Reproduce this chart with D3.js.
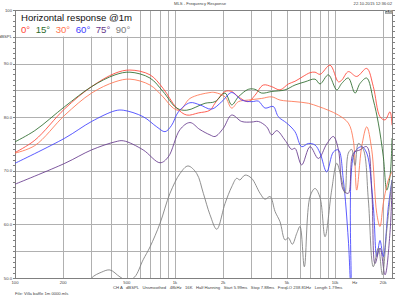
<!DOCTYPE html>
<html>
<head>
<meta charset="utf-8">
<script src="https://cdn.jsdelivr.net/npm/d3@7"></script>
<style>
  body { margin: 0; background: #fff; }
  svg { display: block; font-family: "Liberation Sans", Arial, sans-serif; }
</style>
</head>
<body>
<svg id="chart" width="400" height="300"></svg>
<script>
// angles and colours for the legend
var angles = ["0°", "15°", "30°", "60°", "75°", "90°"]
var colors = ["#ff4436", "#2c6a2c", "#ff7450", "#3d3dff", "#66398c", "#7c7c7c"]

// responses, [Hz, dBSPL]
var deg0 = [[100,73.4],[133,75.7],[205,81.6],[301,85.7],[422,88.2],[523,88.8],[698,87.9],[841,85.4],[1025,81.7],[1184,80.4],[1400,80.8],[1654,81.3],[1778,82.6],[2054,84.8],[2260,84.8],[2490,83.8],[2870,82.9],[3162,84.1],[3560,86.0],[4020,85.7],[4530,85.1],[5110,86.2],[5620,86.7],[6310,87.6],[6980,88.3],[7500,88.4],[8060,88.0],[9310,89.7],[10490,86.6],[11010,86.9],[12110,88.5],[13660,87.6],[15780,89.1],[17350,85.7],[19100,80.1],[20540,79.5],[22060,81.0],[22700,78.5]]
var deg15 = [[100,75.4],[133,77.5],[205,82.0],[301,85.7],[422,87.9],[523,88.4],[698,87.3],[841,84.8],[1025,81.7],[1184,81.3],[1540,82.6],[1778,82.9],[2054,84.5],[2260,82.3],[2490,83.8],[2870,85.2],[3162,85.2],[3480,84.5],[4020,84.8],[4870,85.1],[5620,86.0],[6490,86.6],[7500,87.1],[8060,86.2],[9080,87.9],[10250,85.1],[11010,86.3],[12110,87.3],[13340,84.5],[14330,86.3],[15780,87.3],[17350,83.2],[18650,78.9],[20040,72.6],[21050,66.4],[22060,69.0],[22700,76.1]]
var deg30 = [[100,73.3],[133,74.7],[205,80.4],[301,84.5],[422,86.6],[523,87.1],[698,86.0],[841,83.8],[976,81.7],[1075,81.3],[1240,83.5],[1654,84.6],[1778,84.6],[2054,83.8],[2260,81.7],[2490,82.9],[2870,83.2],[3480,83.5],[4020,83.8],[4530,83.2],[5620,82.9],[6810,82.6],[7870,82.0],[9080,81.3],[10490,80.4],[12110,78.9],[13010,75.7],[13660,66.4],[14680,74.5],[15780,78.2],[16950,74.0],[18220,62.1],[19100,59.6],[20040,64.0],[21540,68.3],[22700,69.8]]
var deg60 = [[100,71.4],[205,76.1],[301,79.2],[422,81.2],[475,81.3],[632,80.1],[769,78.2],[866,77.3],[953,78.5],[1050,81.0],[1240,82.7],[1430,82.3],[1690,81.5],[1960,82.9],[2260,84.6],[2610,83.2],[3010,82.9],[3320,83.0],[3650,81.7],[4110,82.0],[4420,80.1],[4990,78.9],[5620,77.3],[6190,74.5],[6810,75.1],[7500,74.8],[8060,73.3],[8870,69.8],[9760,73.5],[10490,73.9],[11270,68.3],[12110,57.1],[12590,48.0],[13200,73.3],[14680,74.5],[15780,73.3],[17350,63.3],[18220,54.0],[19100,57.0],[20040,54.0],[21540,63.3],[22700,68.3]]
var deg75 = [[100,67.5],[205,71.4],[301,73.9],[422,75.4],[475,75.6],[632,73.9],[806,71.5],[908,72.6],[1075,77.7],[1240,79.0],[1430,77.7],[1654,76.7],[1778,76.4],[2000,77.9],[2260,80.4],[2610,79.2],[3010,79.1],[3320,79.2],[3740,78.2],[4020,76.7],[4320,77.5],[4870,75.7],[5360,74.0],[5620,74.2],[6190,71.1],[6980,74.5],[7870,72.3],[8870,75.0],[9760,76.4],[10490,74.0],[11270,66.4],[12110,65.8],[13010,73.3],[14330,73.9],[15780,74.5],[16950,66.4],[17780,52.7],[19100,55.6],[20540,50.6],[22060,58.5],[22700,67.0]]
var deg90 = [[280,48.0],[301,50.0],[348,51.1],[392,51.5],[453,50.2],[505,49.5],[560,50.2],[632,53.4],[698,55.8],[806,60.2],[930,65.8],[1075,69.5],[1205,70.9],[1366,69.5],[1503,65.8],[1654,61.8],[1823,59.1],[2054,63.9],[2260,67.0],[2430,68.6],[2540,68.3],[2740,69.2],[3010,68.6],[3400,65.8],[3650,64.7],[3930,65.2],[4220,62.4],[4530,60.5],[4870,57.1],[5110,57.5],[5410,56.3],[5760,58.3],[6040,59.6],[6430,52.1],[6980,65.2],[7500,66.7],[8060,65.0],[8660,57.7],[9530,66.4],[10250,71.4],[11010,68.3],[11550,65.8],[12110,73.3],[12710,74.0],[13340,71.0],[13980,75.1],[15030,74.0],[16150,64.6],[17350,52.1],[18650,55.6],[19760,50.6],[21050,58.9],[22700,68.3]]
var series = [deg0, deg15, deg30, deg60, deg75, deg90]

var yLabels = [[100,"100"],[95,"dBSPL"],[90,"90.0"],[80,"80.0"],[70,"70.0"],[60,"60.0"],[50,"50.0"]]
var xLabels = [[100,"100"],[200,"200"],[500,"500"],[1000,"1k"],[2000,"2k"],[5000,"5k"],[10000,"10k"],[13300,"Hz"],[20000,"20k"]]
var xGrid = [200,300,400,500,600,700,800,900,1000,2000,3000,4000,5000,6000,7000,8000,9000,10000,20000]

var svg = d3.select('#chart')
var plotL = 15, plotR = 392, plotT = 10, plotB = 278

var x = d3.scaleLog().domain([100, 22700]).range([plotL, plotR])
var y = d3.scaleLinear().domain([50, 100]).range([plotB, plotT])

function py(d){ return Math.round(y(d)) + 0.5 }
function px(d){ return Math.round(x(d)) + 0.5 }

// grid
var grid = svg.append('g').attr('shape-rendering', 'crispEdges')
grid.selectAll('.hg').data(d3.range(55, 100, 5)).enter()
  .append('line')
  .attr('x1', plotL).attr('x2', plotR)
  .attr('y1', py).attr('y2', py)
  .attr('stroke', '#b0b0b0')
grid.selectAll('.vg').data(xGrid).enter()
  .append('line')
  .attr('y1', plotT).attr('y2', plotB)
  .attr('x1', px).attr('x2', px)
  .attr('stroke', '#b0b0b0')

// frame and small ticks
grid.append('rect')
  .attr('x', plotL + 0.5).attr('y', plotT + 0.5)
  .attr('width', plotR - plotL).attr('height', plotB - plotT)
  .attr('fill', 'none').attr('stroke', '#808080')
grid.selectAll('.lt').data(d3.range(50, 101, 1)).enter()
  .append('line')
  .attr('x1', plotL - 2).attr('x2', plotL + 1)
  .attr('y1', py).attr('y2', py)
  .attr('stroke', '#808080')
grid.selectAll('.rt').data(d3.range(50, 101, 1)).enter()
  .append('line')
  .attr('x1', plotR).attr('x2', plotR + 3)
  .attr('y1', py).attr('y2', py)
  .attr('stroke', '#808080')

// curves
svg.append('clipPath').attr('id', 'plotclip')
  .append('rect').attr('x', plotL).attr('y', plotT).attr('width', plotR - plotL).attr('height', plotB - plotT)

var line = d3.line()
  .x(function(d){ return x(d[0]) })
  .y(function(d){ return y(d[1]) })
  .curve(d3.curveCatmullRom.alpha(0.5))

svg.append('g').attr('clip-path', 'url(#plotclip)')
  .selectAll('path').data(series).enter()
  .append('path')
  .attr('d', line)
  .attr('fill', 'none')
  .attr('stroke', function(d, i){ return colors[i] })
  .attr('stroke-width', 0.85)

// axis labels
svg.selectAll('.yl').data(yLabels).enter()
  .append('text')
  .attr('x', plotL - 3).attr('y', function(d){ return y(d[0]) + 1.5 })
  .attr('text-anchor', 'end')
  .attr('font-size', 4.2).attr('fill', '#444')
  .text(function(d){ return d[1] })
svg.selectAll('.xl').data(xLabels).enter()
  .append('text')
  .attr('x', function(d){ return x(d[0]) }).attr('y', plotB + 6)
  .attr('text-anchor', 'middle')
  .attr('font-size', 4.2).attr('fill', '#444')
  .text(function(d){ return d[1] })

// header and footer text
svg.append('text').attr('x', 200).attr('y', 5).attr('text-anchor', 'middle')
  .attr('font-size', 4.2).attr('fill', '#444').text('MLS - Frequency Response')
svg.append('text').attr('x', plotR).attr('y', 5).attr('text-anchor', 'end')
  .attr('font-size', 4.2).attr('fill', '#444').text('22.10.2015 12:36:02')
svg.append('rect').attr('x', 385).attr('y', 10).attr('width', 7).attr('height', 3.5).attr('fill', '#555')
svg.append('text').attr('x', 388.5).attr('y', 13).attr('text-anchor', 'middle')
  .attr('font-size', 3).attr('font-weight', 'bold').attr('fill', '#fff').text('CLIO')
svg.append('text').attr('x', 113).attr('y', 289)
  .style('white-space', 'pre')
  .attr('font-size', 4.2).attr('fill', '#444')
  .text('CH A   dBSPL   Unsmoothed   48kHz   16K   Half Hanning   Start 5.99ms   Stop 7.88ms   FreqLO 238.81Hz   Length 1.79ms')
svg.append('text').attr('x', 15).attr('y', 295)
  .attr('font-size', 4.2).attr('fill', '#444')
  .text('File: Villa baffle 1m 0000.mls')

// title box and legend
svg.append('rect').attr('x', 16).attr('y', 11).attr('width', 112).attr('height', 25.5).attr('fill', '#fff')
svg.append('text').attr('x', 21).attr('y', 21)
  .attr('font-size', 9.6).attr('fill', '#111')
  .text('Horizontal response @1m')

var lx = 21
angles.forEach(function(a, i){
  var t = svg.append('text').attr('x', lx).attr('y', 33)
    .attr('font-size', 9.6).attr('fill', colors[i]).text(a)
  lx += t.node().getComputedTextLength() + 5.5
})
</script>
</body>
</html>
